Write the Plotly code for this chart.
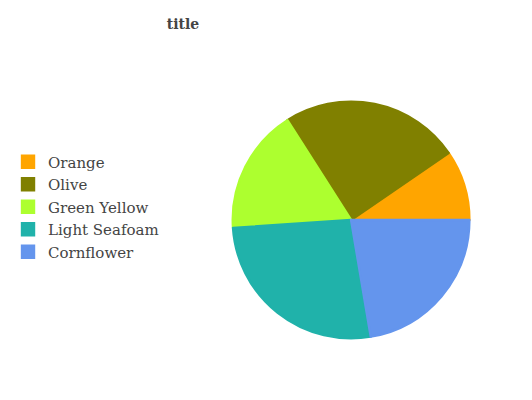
import plotly.graph_objects as go

labels = ["Orange", "Olive", "Green Yellow", "Light Seafoam", "Cornflower"]
values = [9, 23, 16, 25, 21]
colors = ["#FFA500", "#808000", "#ADFF2F", "#20B2AA", "#6495ED"]

W, H = 532, 400
cx, cy, r = 342, 212, 119

# first slice should start at 3 o'clock and run counterclockwise
rot = 90 - 360.0 * values[0] / sum(values)

fig = go.Figure(go.Pie(
    labels=labels, values=values, sort=False,
    direction="counterclockwise", rotation=rot,
    marker=dict(colors=colors, line=dict(width=2.4, color=colors)),
    textinfo="none", hoverinfo="label+value+percent",
    domain=dict(x=[(cx - r) / W, (cx + r) / W], y=[(H - cy - r) / H, (H - cy + r) / H]),
))

fig.update_layout(
    width=W, height=H,
    margin=dict(l=0, r=0, t=0, b=0),
    paper_bgcolor="white", plot_bgcolor="white",
    font=dict(family="DejaVu Serif", color="#444444", size=15),
    title=dict(text="<b>title</b>", x=175 / W, xanchor="center", y=1 - 16 / H, yanchor="middle",
               font=dict(family="DejaVu Serif", size=14, color="#444444")),
    legend=dict(x=-3 / W, xanchor="left", y=1 - 199 / H, yanchor="middle", traceorder="normal",
                font=dict(family="DejaVu Serif", size=15, color="#444444"),
                itemwidth=30, tracegroupgap=0),
)

fig.write_html("out.html")
